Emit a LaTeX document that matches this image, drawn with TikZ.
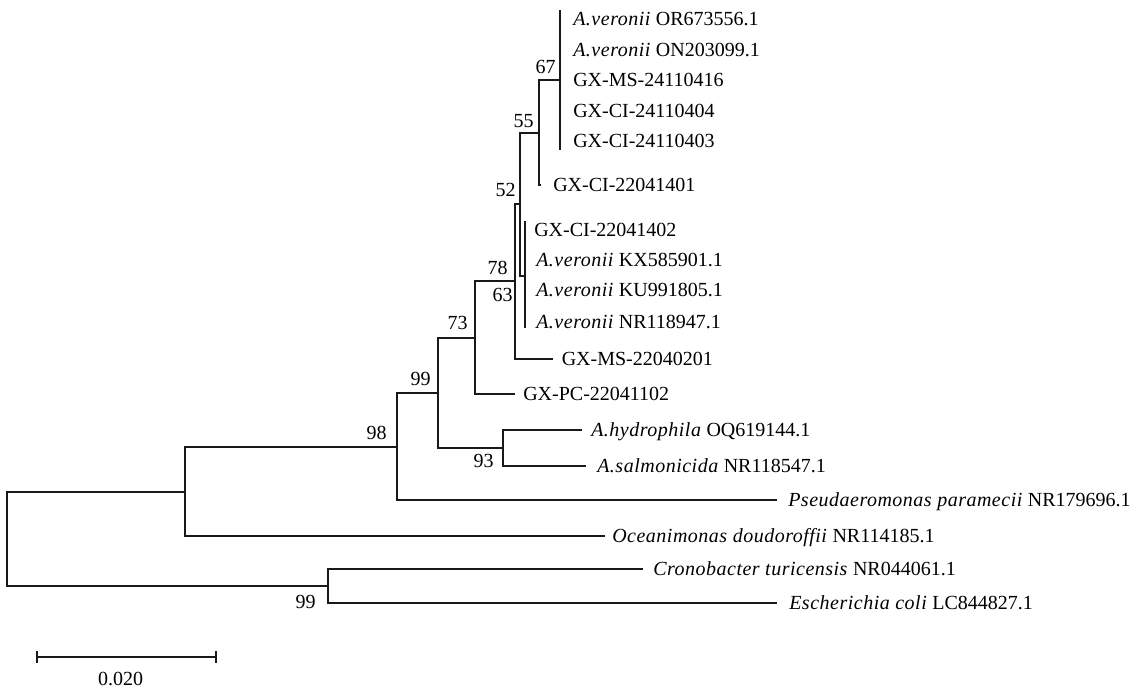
\documentclass[tikz,border=0pt]{standalone}
\usepackage{fontspec}
\setmainfont{Liberation Serif}[ItalicFeatures={LetterSpace=2.5}]
\usepackage{tikz}
\usetikzlibrary{arrows.meta,positioning,calc}

\tikzset{
  branch/.style={line width=1.5pt, black!90},
  taxon/.style={anchor=base west, inner sep=0pt, font=\fontsize{15}{18}\selectfont},
  boot/.style={inner sep=0pt, font=\fontsize{15}{18}\selectfont},
}

\begin{document}
\begin{tikzpicture}[x=0.75pt, y=-0.75pt]
  \useasboundingbox (0,0) rectangle (1131,697);
  % Internal nodes
  \coordinate (root)   at (7,539);
  \coordinate (nsplit) at (185,492);
  \coordinate (n98)    at (397,447);
  \coordinate (n99a)   at (438,393);
  \coordinate (n73)    at (475,338);
  \coordinate (n78)    at (515,281);
  \coordinate (n52)    at (520,204);
  \coordinate (n55)    at (539,133);
  \coordinate (n67)    at (560,80);
  \coordinate (n63)    at (525,275.5);
  \coordinate (n93)    at (503,448);
  \coordinate (n99b)   at (328,586);
  % Tips: name/x/y/gap/text
  \foreach \n/\x/\y/\g/\txt in {%
    1/560/19/13/{\textit{A.veronii} OR673556.1},
    2/560/49.5/13/{\textit{A.veronii} ON203099.1},
    3/560/80/13/{GX-MS-24110416},
    4/560/110.5/13/{GX-CI-24110404},
    5/560/141/13/{GX-CI-24110403},
    6/541/185/12/{GX-CI-22041401},
    7/525/229.5/9/{GX-CI-22041402},
    8/525/260/11/{\textit{A.veronii} KX585901.1},
    9/525/290/11/{\textit{A.veronii} KU991805.1},
    10/525/321.5/11/{\textit{A.veronii} NR118947.1},
    11/553/359/8.5/{GX-MS-22040201},
    12/515/394/8/{GX-PC-22041102},
    13/582/430/9/{\textit{A.hydrophila} OQ619144.1},
    14/586/466/11/{\textit{A.salmonicida} NR118547.1},
    15/777/500/11/{\textit{Pseudaeromonas paramecii} NR179696.1},
    16/605/536/7/{\textit{Oceanimonas doudoroffii} NR114185.1},
    17/643/569/10/{\textit{Cronobacter turicensis} NR044061.1},
    18/777/603/12/{\textit{Escherichia coli} LC844827.1}}
  {%
    \coordinate (t\n) at (\x,\y);
    \node[taxon] (lab\n) at ($(t\n)+(\g,6.5)$) {\txt};
  }
  % Branches
  \foreach \p/\c in {root/nsplit, root/n99b, nsplit/n98, nsplit/t16,
    n98/n99a, n98/t15, n99a/n73, n99a/n93, n73/n78, n73/t12,
    n78/n52, n78/t11, n52/n55, n52/n63, n55/n67, n55/t6,
    n93/t13, n93/t14, n99b/t17, n99b/t18}
    \draw[branch] (\p) |- (\c);
  % Zero-length clades
  \draw[branch] ($(t1)+(0,-9)$) -- ($(t5)+(0,9)$);
  \draw[branch] ($(t7)+(0,-9)$) -- ($(t10)+(0,6)$);
  % Bootstrap values
  \node[boot, above left=4.5pt and 3pt of n67] (b67) {67};
  \node[boot, above left=3.75pt and 3.75pt of n55] (b55) {55};
  \node[boot, above left=5.25pt and 3pt of n52] (b52) {52};
  \node[boot, above left=4.5pt and 5.25pt of n78] (b78) {78};
  \node[boot, below left=9.4pt and 9pt of n63] (b63) {63};
  \node[boot, above left=6pt and 5.25pt of n73] (b73) {73};
  \node[boot, above left=5.25pt and 5.25pt of n99a] (b99a) {99};
  \node[boot, below left=4.5pt and 6.75pt of n93] (b93) {93};
  \node[boot, above left=5.25pt and 7.5pt of n98] (b98) {98};
  \node[boot, below left=6.75pt and 9pt of n99b] (b99b) {99};
  % Scale bar
  \coordinate (barL) at (36,657);
  \coordinate (barR) at (217,657);
  \draw[branch, {Bar[width=9pt]}-{Bar[width=9pt]}] (barL) -- (barR);
  \node[boot] (scale) at (120.5,678.5) {0.020};
\end{tikzpicture}
\end{document}
